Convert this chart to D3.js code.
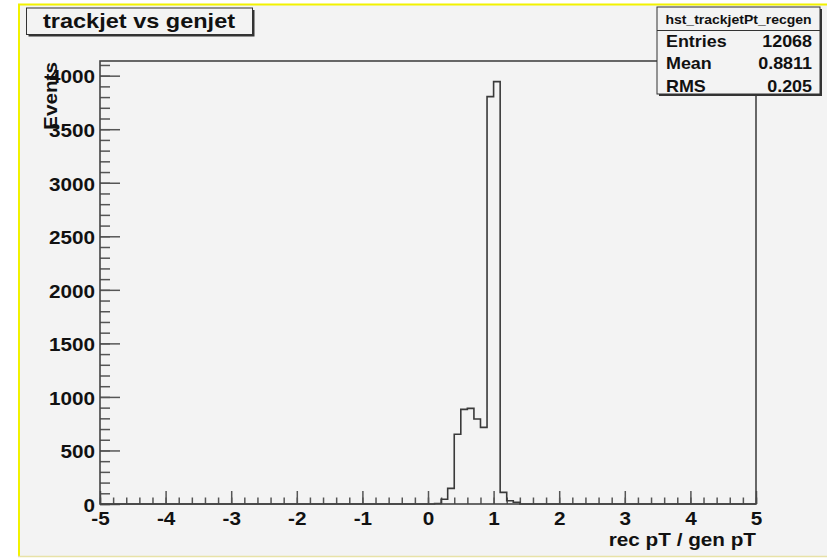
<!DOCTYPE html>
<html>
<head>
<meta charset="utf-8">
<script src="https://cdn.jsdelivr.net/npm/d3@7"></script>
<style>
body { margin: 0; background: #fff; }
text { font-family: "Liberation Sans", Arial, sans-serif; font-weight: bold; fill: #111; }
</style>
</head>
<body>
<div class="histo"></div>
<script>
// histogram contents (only the non-empty bins, width 0.1)
var binLow = [0.1, 0.2, 0.3, 0.4, 0.5, 0.6, 0.7, 0.8, 0.9, 1.0, 1.1, 1.2, 1.3];
var counts = [5, 44, 146, 651, 884, 893, 794, 716, 3804, 3944, 109, 31, 16];
var binWidth = 0.1;

var xTicks = [-5, -4, -3, -2, -1, 0, 1, 2, 3, 4, 5];
var yTicks = [0, 500, 1000, 1500, 2000, 2500, 3000, 3500, 4000];

var histTitle = "trackjet vs genjet";
var histName = "hst_trackjetPt_recgen";
var statNames = ["Entries", "Mean", "RMS"];
var statValues = ["12068", "0.8811", "0.205"];
var xTitle = "rec pT / gen pT";
var yTitle = "Events";

var W = 827, H = 558;
var stretch = "scale(1.12,1)";
var plain = function(d) { return String(d); };   // hyphen minus, no thousands comma

var svg = d3.select(".histo").append("svg")
    .attr("width", W)
    .attr("height", H);

// canvas frame
svg.append("rect")
    .attr("x", 19).attr("y", 4.5)
    .attr("width", W - 19).attr("height", 551.5)
    .attr("fill", "#f3f3f3");
svg.append("line").attr("x1", 19).attr("x2", 19).attr("y1", 4).attr("y2", 557)
    .attr("stroke", "#f2f200").attr("stroke-width", 2);
svg.append("line").attr("x1", 18).attr("x2", W).attr("y1", 4.5).attr("y2", 4.5)
    .attr("stroke", "#f2f200").attr("stroke-width", 2);
svg.append("line").attr("x1", 18).attr("x2", W).attr("y1", 556.5).attr("y2", 556.5)
    .attr("stroke", "#e8e2a8").attr("stroke-width", 1.5);

var x = d3.scaleLinear().domain([-5, 5]).range([100, 756]);
var y = d3.scaleLinear().domain([0, 4137]).range([504, 61]);

// y axis, ticks point into the pad
svg.append("g")
    .attr("transform", "translate(100,0)")
    .attr("color", "#555")
    .call(d3.axisLeft(y).tickValues(d3.range(0, 4137, 100)).tickSize(-10).tickFormat(""))
    .call(g => g.select(".domain").remove())
    .selectAll("line").attr("stroke-width", 1.5);

var gy = svg.append("g")
    .attr("transform", "translate(100,0)")
    .attr("color", "#555")
    .attr("font-size", 18.5)
    .call(d3.axisLeft(y).tickValues(yTicks).tickSize(-20).tickFormat(plain));
gy.select(".domain").remove();
gy.selectAll("line").attr("stroke-width", 1.5);
gy.selectAll("text")
    .attr("x", null).attr("dy", null)
    .attr("transform", "translate(-5,7.3) " + stretch)
    .style("font-size", "18.5px");

// x axis
svg.append("g")
    .attr("transform", "translate(0,504)")
    .attr("color", "#555")
    .call(d3.axisBottom(x).tickValues(d3.range(-5, 5.01, 0.2)).tickSize(-6.5).tickFormat(""))
    .call(g => g.select(".domain").remove())
    .selectAll("line").attr("stroke-width", 1.5);

var gx = svg.append("g")
    .attr("transform", "translate(0,504)")
    .attr("color", "#555")
    .attr("font-size", 18.5)
    .call(d3.axisBottom(x).tickValues(xTicks).tickSize(-13).tickFormat(plain));
gx.select(".domain").remove();
gx.selectAll("line").attr("stroke-width", 1.5);
gx.selectAll("text")
    .attr("y", null).attr("dy", null)
    .attr("transform", "translate(0,21) " + stretch)
    .style("font-size", "18.5px");

// histogram outline
var pts = [[-5, 0]];
binLow.forEach(function(b, i) { pts.push([b, counts[i]]); });
pts.push([binLow[binLow.length - 1] + binWidth, 0], [5, 0]);

var step = d3.line()
    .x(function(d) { return x(d[0]); })
    .y(function(d) { return y(d[1]); })
    .curve(d3.curveStepAfter);

svg.append("path")
    .attr("d", step(pts))
    .attr("fill", "none")
    .attr("stroke", "#3a3a3a")
    .attr("stroke-width", 1.6);

// pad frame
svg.append("rect")
    .attr("x", x(-5)).attr("y", y(4137))
    .attr("width", x(5) - x(-5)).attr("height", y(0) - y(4137))
    .attr("fill", "none")
    .attr("stroke", "#444")
    .attr("stroke-width", 1.6);

// axis titles
svg.append("text")
    .attr("transform", "translate(756,545.5) " + stretch)
    .attr("text-anchor", "end")
    .style("font-size", "18.5px")
    .text(xTitle);

svg.append("text")
    .attr("transform", "translate(57,62) rotate(-90) " + stretch)
    .attr("text-anchor", "end")
    .style("font-size", "18.5px")
    .text(yTitle);

// title box
svg.append("rect").attr("x", 28.5).attr("y", 10).attr("width", 226).attr("height", 26.5)
    .attr("fill", "#333");
svg.append("rect").attr("x", 26.5).attr("y", 8).attr("width", 226).attr("height", 26.5)
    .attr("fill", "#f3f3f3").attr("stroke", "#333").attr("stroke-width", 1);
svg.append("text")
    .attr("transform", "translate(43,27.5) " + stretch)
    .style("font-size", "21px")
    .text(histTitle);

// stats box
svg.append("rect").attr("x", 659).attr("y", 9).attr("width", 163).attr("height", 87)
    .attr("fill", "#333");
svg.append("rect").attr("x", 657).attr("y", 7).attr("width", 163).attr("height", 87)
    .attr("fill", "#f3f3f3").attr("stroke", "#333").attr("stroke-width", 1);
svg.append("line").attr("x1", 657).attr("x2", 820).attr("y1", 30.5).attr("y2", 30.5)
    .attr("stroke", "#333").attr("stroke-width", 1);
svg.append("text")
    .attr("transform", "translate(738.5,24) " + stretch)
    .attr("text-anchor", "middle")
    .style("font-size", "12.5px")
    .text(histName);

var rowBase = [46.7, 69.3, 91.7];
statNames.forEach(function(n, i) {
    svg.append("text")
        .attr("transform", "translate(666," + rowBase[i] + ") " + stretch)
        .style("font-size", "16px")
        .text(n);
    svg.append("text")
        .attr("transform", "translate(812," + rowBase[i] + ") " + stretch)
        .attr("text-anchor", "end")
        .style("font-size", "16px")
        .text(statValues[i]);
});
</script>
</body>
</html>
